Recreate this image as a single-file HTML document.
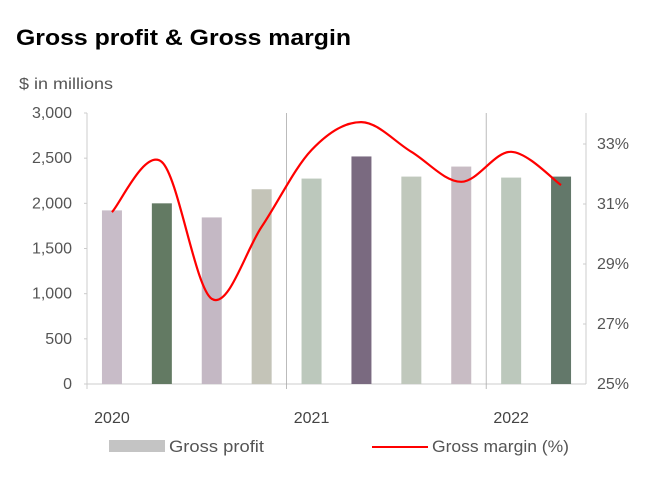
<!DOCTYPE html>
<html><head><meta charset="utf-8"><style>
html,body{margin:0;padding:0;background:#fff;width:671px;height:492px;overflow:hidden}
svg{font-family:"Liberation Sans",sans-serif}
</style></head><body>
<svg id="c" width="671" height="492" viewBox="0 0 671 492">
<text x="16" y="45" font-size="22" font-weight="bold" fill="#000" textLength="335" lengthAdjust="spacingAndGlyphs">Gross profit &amp; Gross margin</text>
<text x="19" y="89" font-size="16" fill="#555" textLength="94" lengthAdjust="spacingAndGlyphs">$ in millions</text>
<g id="g"></g>
</svg>
<script>
const categories=["Q1 2020","Q2 2020","Q3 2020","Q4 2020","Q1 2021","Q2 2021","Q3 2021","Q4 2021","Q1 2022","Q2 2022"];
const grossProfit=[1922,2000,1844,2156,2274,2519,2296,2407,2285,2296];
const grossMargin=[30.73,32.4,27.84,30.24,32.8,33.73,32.74,31.74,32.74,31.63];
const barColors=["#c8bcc8","#637a63","#c4b8c4","#c4c4b8","#bcc8bc","#7a6a80","#c0c8bc","#c8bcc4","#bcc8bc","#63786a"];
const leftTicks=[0,500,1000,1500,2000,2500,3000];
const rightTicks=[25,27,29,31,33];
const yearLabels=["2020","2021","2022"];
const yearIdx=[0,4,8];

const NS="http://www.w3.org/2000/svg";
const g=document.getElementById('g');
const X0=87,X1=586,Y0=384,Y1=113;
const bw=(X1-X0)/categories.length;
const xC=i=>X0+(i+0.5)*bw;
const yL=v=>Y0-(v/3000)*(Y0-Y1);
const yR=v=>Y0-(v-25)*30;
function el(t,a){const e=document.createElementNS(NS,t);for(const k in a)e.setAttribute(k,a[k]);g.appendChild(e);return e;}

let e=el('line',{x1:X0,y1:Y1,x2:X0,y2:Y0,stroke:'#ccc'});


e=el('line',{x1:X1,y1:Y1,x2:X1,y2:Y0,stroke:'#ccc'});


e=el('line',{x1:X0,y1:Y0,x2:X1,y2:Y0,stroke:'#ccc'});


[X0+4*bw,X0+8*bw].forEach(x=>{
  const d=el('line',{x1:x,y1:Y1,x2:x,y2:Y0+5,stroke:'#aaa','stroke-width':0.8});
  
  
});
el('line',{x1:X0,y1:Y0,x2:X0,y2:Y0+5,stroke:'#ccc'});
leftTicks.forEach(v=>{
  el('line',{x1:X0-3,y1:yL(v),x2:X0,y2:yL(v),stroke:'#ccc'});
  const t=el('text',{x:72,y:yL(v)+5,'text-anchor':'end','font-size':16,fill:'#555'});
  t.textContent=v.toLocaleString('en-US');
  
  
});
rightTicks.forEach(v=>{
  el('line',{x1:X1-3,y1:yR(v),x2:X1,y2:yR(v),stroke:'#ccc'});
  const t=el('text',{x:597,y:yR(v)+5,'font-size':16,fill:'#555'});
  t.textContent=v+'%';
  
  
});
yearLabels.forEach((s,k)=>{
  const t=el('text',{x:xC(yearIdx[k]),y:423,'text-anchor':'middle','font-size':16,fill:'#444'});
  t.textContent=s;
  
  
});
grossProfit.forEach((v,i)=>{
  const r=el('rect',{x:xC(i)-10,y:yL(v),width:20,height:Y0-yL(v),fill:barColors[i]});
  
  
});
const pts=grossMargin.map((v,i)=>[xC(i),yR(v)]);
let d='M'+pts[0][0]+','+pts[0][1];
for(let i=0;i<pts.length-1;i++){
  const p0=pts[Math.max(i-1,0)],p1=pts[i],p2=pts[i+1],p3=pts[Math.min(i+2,pts.length-1)];
  const c1=[p1[0]+(p2[0]-p0[0])/6,p1[1]+(p2[1]-p0[1])/6];
  const c2=[p2[0]-(p3[0]-p1[0])/6,p2[1]-(p3[1]-p1[1])/6];
  d+=' C'+c1+' '+c2+' '+p2;
}
const ln=el('path',{d:d,fill:'none',stroke:'#f00','stroke-width':2.2});


const lr=el('rect',{x:109,y:440,width:56,height:12,fill:'#c4c4c4'});


let lt=el('text',{x:169,y:452,'font-size':17,fill:'#555',textLength:95,lengthAdjust:'spacingAndGlyphs'});
lt.textContent='Gross profit';


const ll=el('line',{x1:372,y1:447,x2:428,y2:447,stroke:'#f00','stroke-width':2});


lt=el('text',{x:432,y:452,'font-size':17,fill:'#555',textLength:137,lengthAdjust:'spacingAndGlyphs'});
lt.textContent='Gross margin (%)';


</script>
</body></html>
